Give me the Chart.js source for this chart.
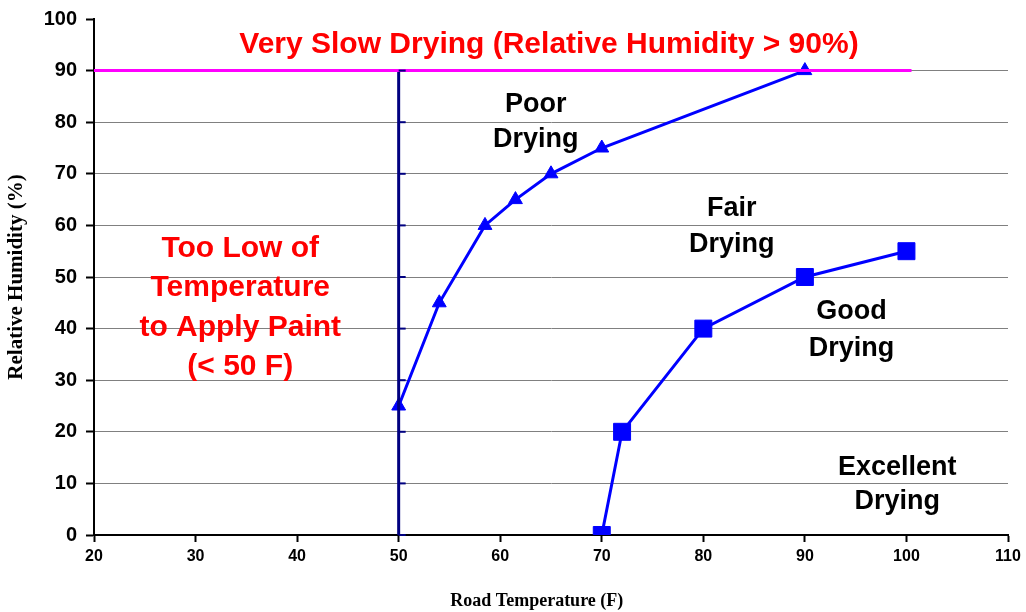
<!DOCTYPE html>
<html>
<head>
<meta charset="utf-8">
<script src="https://cdn.jsdelivr.net/npm/chart.js@4"></script>
<style>
  html, body { margin: 0; padding: 0; background: #fff; }
  #wrap { width: 1026px; height: 612px; }
</style>
</head>
<body>
<div id="wrap"><canvas id="myChart" width="1026" height="612"></canvas></div>
<script>
'use strict';

// poor / fair boundary (triangles)
var poorX = [50, 54, 58.5, 61.5, 65, 70, 90];
var poorY = [25, 45, 60, 65, 70, 75, 90];

// good / fair boundary (squares)
var goodX = [70, 72, 80, 90, 100];
var goodY = [0, 20, 40, 50, 55];

// reference lines
var humidLimitX = [20, 100.5];
var humidLimitY = [90, 90];
var tempLimitX = [50, 50];
var tempLimitY = [0, 90];

var xTitle = 'Road Temperature (F)';
var yTitle = 'Relative Humidity (%)';

// text labels, placed in data units
var notes = [
    { x: 64.8, y: 95.1, lines: ['Very Slow Drying (Relative Humidity > 90%)'], color: '#ff0000', size: 30, lh: 40 },
    { x: 63.5, y: 80, lines: ['Poor', 'Drying'], color: '#000000', size: 27, lh: 35 },
    { x: 82.8, y: 59.8, lines: ['Fair', 'Drying'], color: '#000000', size: 27, lh: 36 },
    { x: 94.6, y: 39.8, lines: ['Good', 'Drying'], color: '#000000', size: 27, lh: 37 },
    { x: 99.1, y: 9.7, lines: ['Excellent', 'Drying'], color: '#000000', size: 27, lh: 34 },
    { x: 34.4, y: 44, lines: ['Too Low of', 'Temperature', 'to Apply Paint', '(< 50 F)'], color: '#ff0000', size: 30, lh: 39.5 }
];

function pairs(xs, ys) {
    return xs.map(function (x, i) { return { x: x, y: ys[i] }; });
}

var notesPlugin = {
    id: 'notes',
    afterDatasetsDraw: function (chart) {
        var ctx = chart.ctx;
        var sx = chart.scales.x, sy = chart.scales.y;
        ctx.save();
        ctx.textAlign = 'center';
        ctx.textBaseline = 'middle';
        notes.forEach(function (n) {
            var px = sx.getPixelForValue(n.x);
            var py = sy.getPixelForValue(n.y);
            ctx.font = 'bold ' + n.size + 'px "Liberation Sans", Arial, sans-serif';
            ctx.fillStyle = n.color;
            var top = py - (n.lines.length - 1) * n.lh / 2;
            n.lines.forEach(function (t, i) {
                ctx.fillText(t, px, top + i * n.lh);
            });
        });
        // x axis title, sits a little left of the plot centre
        ctx.font = 'bold 18px "Liberation Serif", "Times New Roman", serif';
        ctx.fillStyle = '#000';
        ctx.fillText(xTitle, sx.getPixelForValue(63.6), sx.bottom - 9);
        // small ticks on the 50 F line
        ctx.strokeStyle = '#000080';
        ctx.lineWidth = 2;
        var lx = sx.getPixelForValue(tempLimitX[0]);
        for (var v = 0; v <= tempLimitY[1]; v += 10) {
            var ty = sy.getPixelForValue(v);
            ctx.beginPath();
            ctx.moveTo(lx, ty);
            ctx.lineTo(lx + 7, ty);
            ctx.stroke();
        }
        ctx.restore();
    }
};

var ctx = document.getElementById('myChart').getContext('2d');
var chart = new Chart(ctx, {
    type: 'scatter',
    data: {
        datasets: [{
            data: pairs(humidLimitX, humidLimitY),
            showLine: true,
            borderColor: '#ff00ff',
            borderWidth: 3,
            pointRadius: 0
        }, {
            data: pairs(tempLimitX, tempLimitY),
            showLine: true,
            borderColor: '#000080',
            borderWidth: 3,
            pointRadius: 0
        }, {
            data: pairs(poorX, poorY),
            showLine: true,
            borderColor: '#0000ff',
            backgroundColor: '#0000ff',
            borderWidth: 3,
            pointStyle: 'triangle',
            pointRadius: 8,
            pointBorderWidth: 1
        }, {
            data: pairs(goodX, goodY),
            showLine: true,
            borderColor: '#0000ff',
            backgroundColor: '#0000ff',
            borderWidth: 3,
            pointStyle: 'rect',
            pointRadius: 12,
            pointBorderWidth: 1
        }]
    },
    options: {
        responsive: false,
        animation: false,
        layout: { padding: { top: 6, right: 18, bottom: 2, left: 0 } },
        plugins: {
            legend: { display: false },
            tooltip: { enabled: false }
        },
        scales: {
            x: {
                type: 'linear',
                min: 20,
                max: 110,
                ticks: { stepSize: 10, color: '#000', font: { family: 'Liberation Sans, Arial', weight: 'bold', size: 16 }, padding: 5 },
                grid: { drawOnChartArea: false, tickLength: 7, tickColor: '#000', tickWidth: 2 },
                border: { color: '#000', width: 2 },
                afterFit: function (scale) { scale.height = 75; }
            },
            y: {
                min: 0,
                max: 100,
                ticks: { stepSize: 10, color: '#000', font: { family: 'Liberation Sans, Arial', weight: 'bold', size: 20, lineHeight: 1 }, padding: 9 },
                grid: {
                    color: function (c) { return (c.tick && (c.tick.value === 0 || c.tick.value === 100)) ? 'rgba(0,0,0,0)' : '#808080'; },
                    lineWidth: 1,
                    tickLength: 8,
                    tickColor: '#000',
                    tickWidth: 2
                },
                border: { color: '#000', width: 2 },
                title: { display: true, text: yTitle, color: '#000', font: { family: 'Liberation Serif, Times New Roman', weight: 'bold', size: 21 }, padding: { top: 4, bottom: 4 } },
                afterFit: function (scale) { scale.width = 94; }
            }
        }
    },
    plugins: [notesPlugin]
});
</script>
</body>
</html>
